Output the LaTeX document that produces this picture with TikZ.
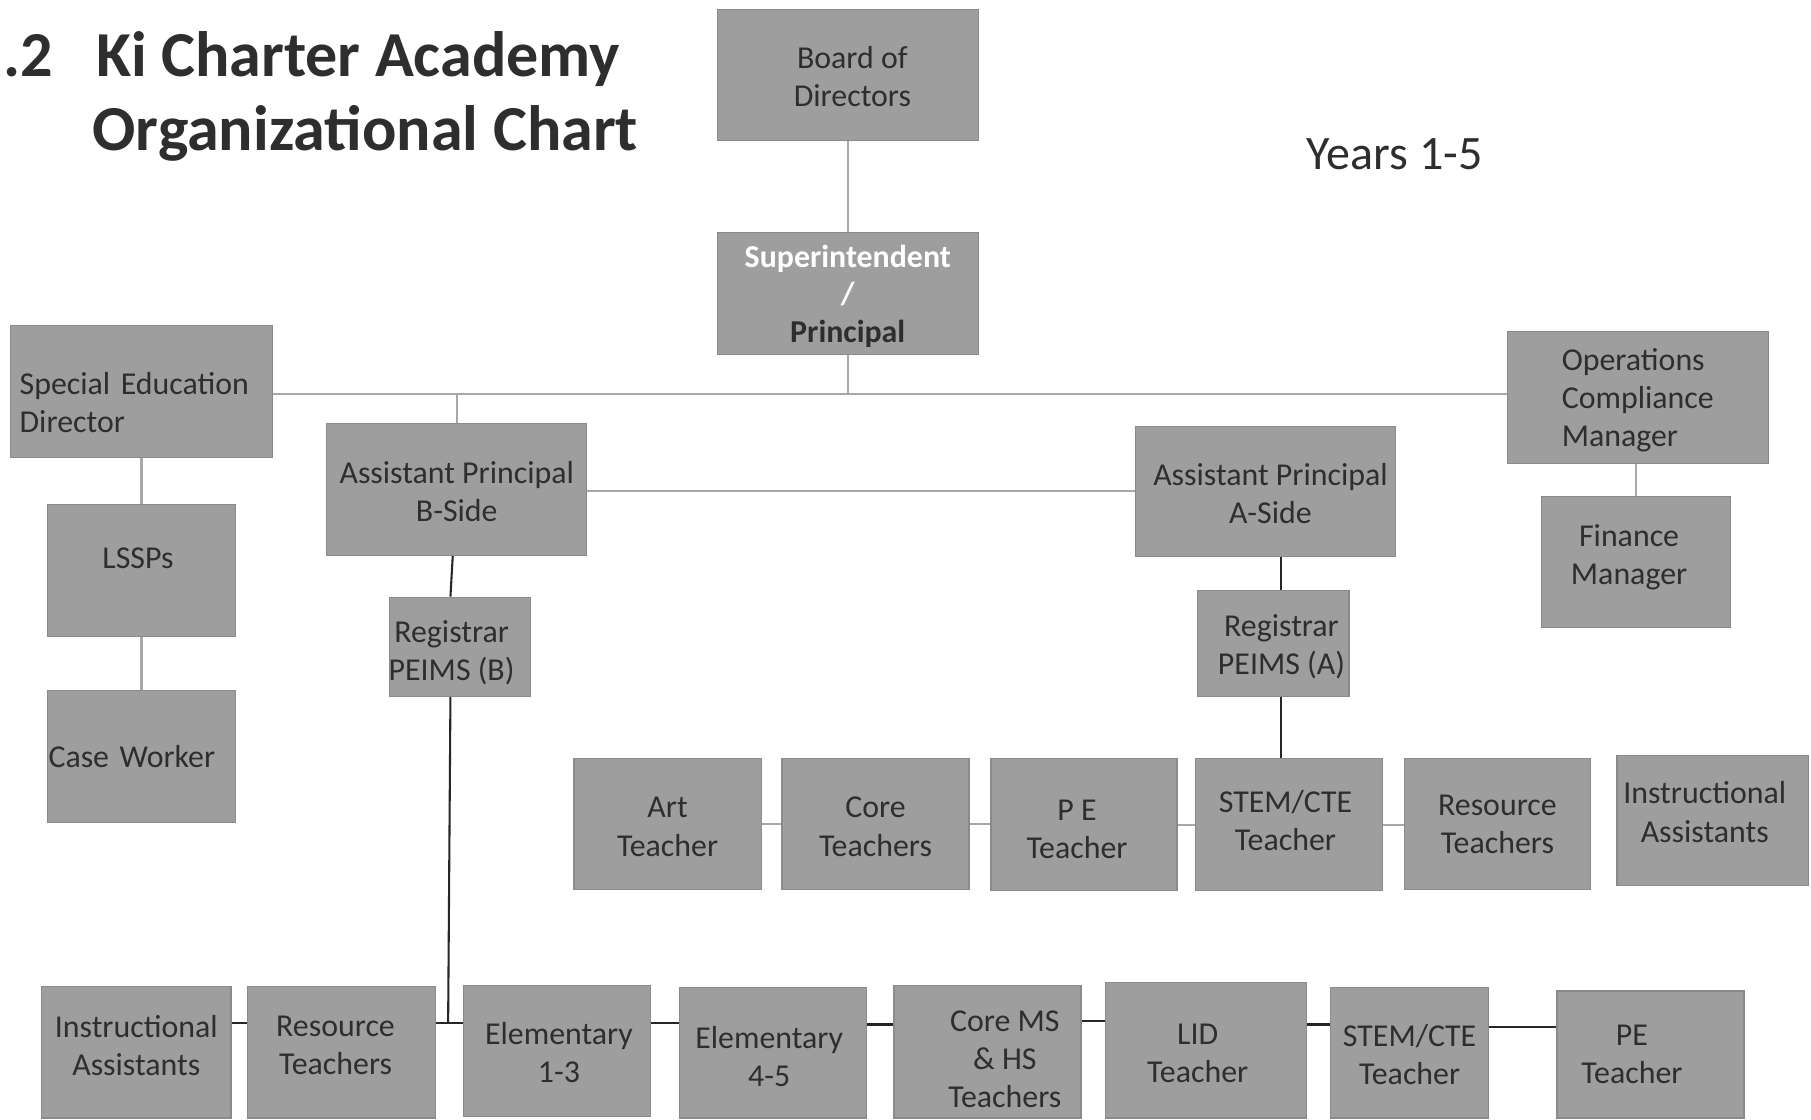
\documentclass[tikz,border=0pt]{standalone}
\usepackage{fontspec}
\setmainfont{Carlito}
\definecolor{boxfill}{HTML}{9E9E9E}
\definecolor{boxedge}{HTML}{8A8A8A}
\definecolor{txt}{HTML}{2E2E2E}
\definecolor{liteln}{HTML}{A8A8A8}
\definecolor{darkln}{HTML}{262626}
\newcommand\obox[7]{\node[box,#6,minimum width={#4pt-#2pt},minimum height={#5pt-#3pt}] (#1) at ({(#2+#4)/2},{(#3+#5)/2}) {#7};}
\newcommand\sr[1]{\hspace*{#1pt}}
\newcommand\dn[1]{\mbox{}\\[#1pt]}
\tikzset{
  box/.style={draw=boxedge,fill=boxfill,line width=1pt,inner sep=0pt,align=center,text=txt,
    font=\fontsize{27.6pt}{33pt}\selectfont},
  liteline/.style={draw=liteln,line width=1.8pt},
  darkline/.style={draw=darkln,line width=1.8pt},
  titletext/.style={text=txt,inner sep=0pt,anchor=base west,font=\fontsize{55.5pt}{64pt}\selectfont\bfseries}
}
\begin{document}
\begin{tikzpicture}[x=1pt,y=-1pt]
\useasboundingbox[fill=white] (0,0) rectangle (1568,969);
% title
\node[titletext] (num) at (3,66) {.2};
\node[titletext] (t1) at (83,66) {Ki Charter Academy};
\node[titletext] (t2) at (80,130) {Organizational Chart};
\node[text=txt,inner sep=0pt,anchor=base west,font=\fontsize{41.6pt}{48pt}\selectfont] (years) at (1131,147) {Years 1-5};
% boxes
\obox{board}{621}{8}{847}{122}{}{\dn{-11.5}\sr{8}Board of\\\sr{8}Directors}
\obox{super}{621}{201}{847}{307}{font=\fontsize{27.6pt}{32.5pt}\selectfont\bfseries}{\dn{-8.5}\textcolor{white}{Superintendent}\\\textcolor{white}{/}\\Principal}
\obox{sped}{9}{282}{236}{396}{align=left,text width=211pt}{\dn{4.5}Special Education\\Director}
\obox{apb}{283}{367}{508}{481}{}{\dn{-10.5}Assistant Principal\\B-Side}
\obox{apa}{983}{369}{1208}{482}{}{\dn{-10.5}\sr{9}Assistant Principal\\\sr{9}A-Side}
\obox{ops}{1305}{287}{1531}{401}{align=left}{\dn{-8.5}Operations\\Compliance\\Manager}
\obox{fin}{1335}{430}{1498}{543}{}{\sr{-12}Finance\\\sr{-12}Manager\\[-21pt]}
\obox{lssp}{41}{437}{204}{551}{}{\sr{-6}LSSPs\\[-11pt]}
\obox{case}{41}{598}{204}{712}{align=left,text width=161pt}{Case Worker}
\obox{regb}{337}{517}{459}{603}{}{\dn{-3.5}\sr{-14}Registrar\\\sr{-14}PEIMS (B)}
\obox{rega}{1037}{511}{1168}{603}{}{\dn{-7.5}\sr{14}Registrar\\\sr{14}PEIMS (A)}
% middle row
\obox{art}{497}{657}{659}{770}{}{\dn{-10.5}Art\\Teacher}
\obox{core}{677}{657}{839}{770}{}{\dn{-10.5}Core\\Teachers}
\obox{pe}{858}{657}{1019}{771}{}{\dn{-7.5}\sr{-12}P E\\\sr{-12}Teacher}
\obox{stemm}{1035}{657}{1197}{771}{}{\sr{-6}STEM/CTE\\\sr{-6}Teacher\\[-25pt]}
\obox{resm}{1216}{657}{1377}{770}{}{Resource\\Teachers}
\obox{iam}{1400}{654}{1566}{767}{}{\sr{-14}Instructional\\\sr{-14}Assistants\\[-18pt]}
% bottom row
\obox{iab}{36}{854}{200}{968}{}{Instructional\\Assistants\\[-21pt]}
\obox{rtb}{214}{854}{377}{968}{}{\sr{-10}Resource\\\sr{-10}Teachers\\[-21pt]}
\obox{el13}{401}{853}{563}{967}{}{\dn{-10.5}\sr{4}Elementary\\\sr{4}1-3}
\obox{el45}{588}{855}{750}{968}{}{\dn{-7.5}\sr{-6}Elementary\\\sr{-6}4-5}
\obox{corems}{774}{853}{936}{968}{}{\dn{-2.5}\sr{30}Core MS\\\sr{30}\& HS\\\sr{30}Teachers}
\obox{lid}{957}{851}{1131}{968}{}{\dn{-9.5}\sr{-14}LID\\\sr{-14}Teacher}
\obox{stemb}{1152}{855}{1289}{968}{}{\dn{-11.5}STEM/CTE\\Teacher}
\obox{peb}{1348}{858}{1510}{968}{}{\sr{-32}PE\\\sr{-32}Teacher}
% connectors
\coordinate (hub) at (734,341);
\draw[liteline] (board) -- (super);
\draw[liteline] (super) -- (hub);
\draw[liteline] (sped.east |- hub) -- (ops.west |- hub);
\draw[liteline] (apb.north) -- (apb.north |- hub);
\draw[liteline] ([yshift=-1pt]apb.east) -- ([yshift=-1pt]apb.east -| apa.west);
\draw[liteline] (sped) -- (lssp);
\draw[liteline] (lssp) -- (case);
\draw[liteline] (fin.north) -- (fin.north |- ops.south);
\draw[darkline] ([xshift=-3.5pt]apb.south) -- ([xshift=-8pt]regb.north);
\coordinate (bj) at (388,886);
\draw[darkline] ([xshift=-8pt]regb.south) -- (bj);
\draw[darkline] (rtb.east |- bj) -- (el13.west |- bj);
\draw[darkline] ([xshift=6.5pt]rega.north) -- ([xshift=6.5pt]rega.north |- apa.south);
\draw[darkline] ([xshift=6.5pt]rega.south) -- ([xshift=6.5pt]rega.south |- stemm.north);
% middle row links
\draw[liteline] (art.east) -- (art.east -| core.west);
\draw[liteline] (core.east) -- (core.east -| pe.west);
\draw[liteline] (pe.east) -- (pe.east -| stemm.west);
\draw[liteline] (stemm.east) -- (stemm.east -| resm.west);
% bottom row links
\draw[darkline] (iab.east |- bj) -- (rtb.west |- bj);
\draw[darkline] (el13.east |- bj) -- (el45.west |- bj);
\draw[darkline] ([yshift=-1pt]el45.east |- bj) -- ([yshift=-1pt]corems.west |- bj);
\draw[darkline] ([yshift=2pt]corems.east |- bj) -- ([yshift=2pt]lid.west |- bj);
\draw[darkline] ([yshift=-1pt]lid.east |- bj) -- ([yshift=-1pt]stemb.west |- bj);
\draw[darkline] ([yshift=-3pt]stemb.east |- bj) -- ([yshift=-3pt]peb.west |- bj);
\end{tikzpicture}
\end{document}
